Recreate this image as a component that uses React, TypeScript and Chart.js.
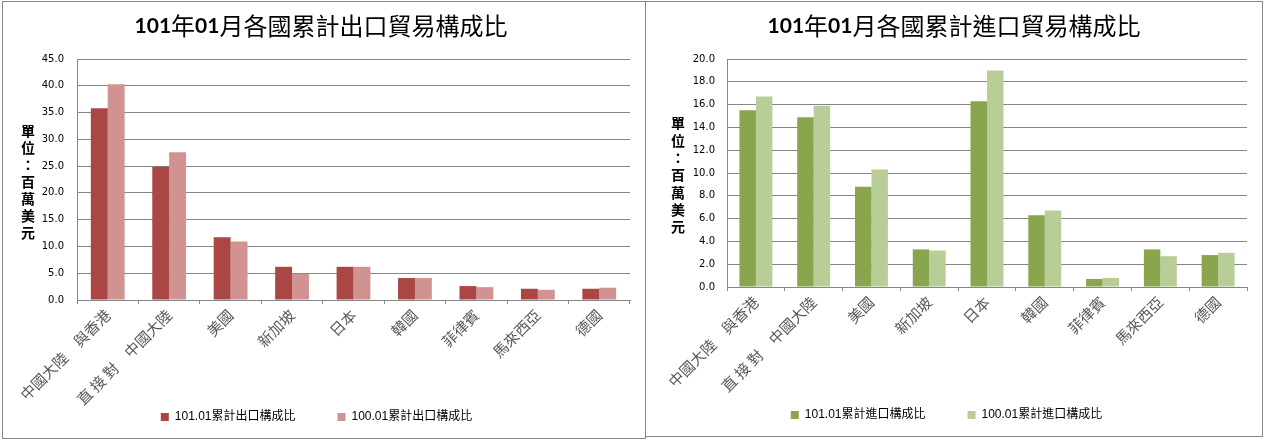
import React, { useEffect, useRef } from 'react';
import { Chart, registerables } from 'chart.js';

Chart.register(...registerables);

// ---- data ----
const categories = ['中國大陸　與香港', '直 接 對　中國大陸', '美國', '新加坡', '日本', '韓國', '菲律賓', '馬來西亞', '德國'];

const exportTitle = '101年01月各國累計出口貿易構成比';
const importTitle = '101年01月各國累計進口貿易構成比';
const yAxisTitle = '單位：百萬美元';

const exportCurLabel = '101.01累計出口構成比';
const exportPrevLabel = '100.01累計出口構成比';
const exportCur = [35.8, 24.9, 11.7, 6.2, 6.2, 4.1, 2.6, 2.1, 2.1];
const exportPrev = [40.3, 27.6, 10.9, 4.9, 6.2, 4.1, 2.4, 1.9, 2.3];

const importCurLabel = '101.01累計進口構成比';
const importPrevLabel = '100.01累計進口構成比';
const importCur = [15.5, 14.9, 8.8, 3.3, 16.3, 6.3, 0.7, 3.3, 2.8];
const importPrev = [16.7, 15.9, 10.3, 3.2, 19.0, 6.7, 0.8, 2.7, 3.0];

const exportAxis = { max: 45, step: 5 };
const importAxis = { max: 20, step: 2 };

const GRID = '#868686';
const CJK = '"Noto Sans CJK TC", "Noto Sans CJK SC", sans-serif';

const overlayPlugin = {
  id: 'overlay',
  afterLayout(chart: any) {
    // let rotated x labels extend below the axis box (no clipping)
    const x = chart.scales.x;
    if (x) x.bottom = chart.height;
  },
  afterDraw(chart: any, _args: any, opts: any) {
    const ctx = chart.ctx as CanvasRenderingContext2D;
    ctx.save();
    // title with bold digits
    const runs: string[] = (opts.title as string).split(/(\d+)/).filter((s: string) => s.length > 0);
    const fontFor = (s: string) => (/^\d+$/.test(s) ? 'bold 21px Lato, "Liberation Sans", sans-serif' : `24px ${CJK}`);
    let total = 0;
    const widths = runs.map((r) => {
      ctx.font = fontFor(r);
      const w = ctx.measureText(r).width;
      total += w;
      return w;
    });
    let x = opts.titleX - total / 2;
    ctx.fillStyle = '#000';
    ctx.textBaseline = 'middle';
    ctx.textAlign = 'left';
    runs.forEach((r, i) => {
      ctx.font = fontFor(r);
      ctx.fillText(r, x, opts.titleY);
      x += widths[i];
    });
    // vertical stacked y title
    ctx.font = `bold 14px ${CJK}`;
    ctx.textAlign = 'center';
    Array.from(opts.yTitle as string).forEach((ch, i) => {
      ctx.fillText(ch, opts.yTitleX, opts.yTitleY0 + i * opts.yTitleStep);
    });
    ctx.restore();
  },
};

function makeConfig(p: any): any {
  return {
    type: 'bar',
    data: {
      labels: categories,
      datasets: [
        { label: p.curLabel, data: p.cur, backgroundColor: p.colors[0], borderWidth: 0, barPercentage: 1, categoryPercentage: p.catPct },
        { label: p.prevLabel, data: p.prev, backgroundColor: p.colors[1], borderWidth: 0, barPercentage: 1, categoryPercentage: p.catPct },
      ],
    },
    plugins: [overlayPlugin],
    options: {
      animation: false,
      responsive: false,
      devicePixelRatio: 1,
      events: [],
      layout: { padding: { top: 57, right: p.padRight, left: 0, bottom: p.padBottom } },
      plugins: {
        title: { display: false },
        tooltip: { enabled: false },
        legend: {
          display: true,
          position: 'bottom',
          labels: {
            boxWidth: 8,
            boxHeight: 8,
            padding: 42,
            color: '#000',
            font: { family: `"Liberation Sans", ${CJK}`, size: 12 },
          },
        },
        overlay: {
          title: p.title,
          titleX: p.titleX,
          titleY: p.titleY,
          yTitle: yAxisTitle,
          yTitleX: p.yTitleX,
          yTitleY0: p.yTitleY0,
          yTitleStep: p.yTitleStep,
        },
      },
      scales: {
        x: {
          grid: { display: true, drawOnChartArea: false, drawTicks: true, tickLength: 4, color: GRID, lineWidth: 1 },
          border: { display: true, color: GRID, width: 1 },
          ticks: {
            autoSkip: false,
            maxRotation: 45,
            minRotation: 45,
            padding: 2,
            color: '#595959',
            font: { family: CJK, size: 15 },
          },
          afterFit: (s: any) => {
            s.height = p.xAxisHeight;
            s.paddingLeft = 0;
            s.paddingRight = 0;
          },
        },
        y: {
          min: 0,
          max: p.max,
          grid: { display: true, drawTicks: false, color: GRID, lineWidth: 1 },
          border: { display: true, color: GRID, width: 1 },
          ticks: {
            stepSize: p.step,
            padding: p.tickPad,
            color: '#000',
            font: { family: '"DejaVu Sans", sans-serif', size: 10 },
            callback: (v: any) => Number(v).toFixed(1),
          },
          afterFit: (s: any) => {
            s.width = p.yAxisWidth;
          },
        },
      },
    },
  };
}

function ChartCanvas({ width, height, params }: { width: number; height: number; params: any }) {
  const ref = useRef<HTMLCanvasElement | null>(null);
  useEffect(() => {
    if (!ref.current) return;
    const chart = new Chart(ref.current, makeConfig(params));
    return () => chart.destroy();
  }, []);
  return <canvas ref={ref} width={width} height={height} style={{ display: 'block', width, height }} />;
}

const leftParams = {
  title: exportTitle,
  cur: exportCur,
  prev: exportPrev,
  curLabel: exportCurLabel,
  prevLabel: exportPrevLabel,
  colors: ['#AA4643', '#D19392'],
  max: exportAxis.max,
  step: exportAxis.step,
  catPct: 0.55,
  padRight: 15,
  padBottom: 5,
  yAxisWidth: 74,
  xAxisHeight: 69,
  tickPad: 13,
  titleX: 318,
  titleY: 24,
  yTitleX: 25,
  yTitleY0: 129,
  yTitleStep: 17,
};

const rightParams = {
  title: importTitle,
  cur: importCur,
  prev: importPrev,
  curLabel: importCurLabel,
  prevLabel: importPrevLabel,
  colors: ['#89A54E', '#B9CD96'],
  max: importAxis.max,
  step: importAxis.step,
  catPct: 0.57,
  padRight: 15,
  padBottom: 5,
  yAxisWidth: 81,
  xAxisHeight: 80,
  tickPad: 12,
  titleX: 308,
  titleY: 24,
  yTitleX: 32,
  yTitleY0: 121,
  yTitleStep: 17.3,
};

export default function App() {
  return (
    <div style={{ position: 'fixed', left: 0, top: 0, width: 1264, height: 440, background: '#fff', overflow: 'hidden' }}>
      <div style={{ position: 'absolute', left: 2, top: 1, width: 644, height: 438, border: `1px solid ${GRID}`, boxSizing: 'border-box' }}>
        <ChartCanvas width={642} height={436} params={leftParams} />
      </div>
      <div style={{ position: 'absolute', left: 645, top: 1, width: 618, height: 436, border: `1px solid ${GRID}`, boxSizing: 'border-box' }}>
        <ChartCanvas width={616} height={434} params={rightParams} />
      </div>
    </div>
  );
}
